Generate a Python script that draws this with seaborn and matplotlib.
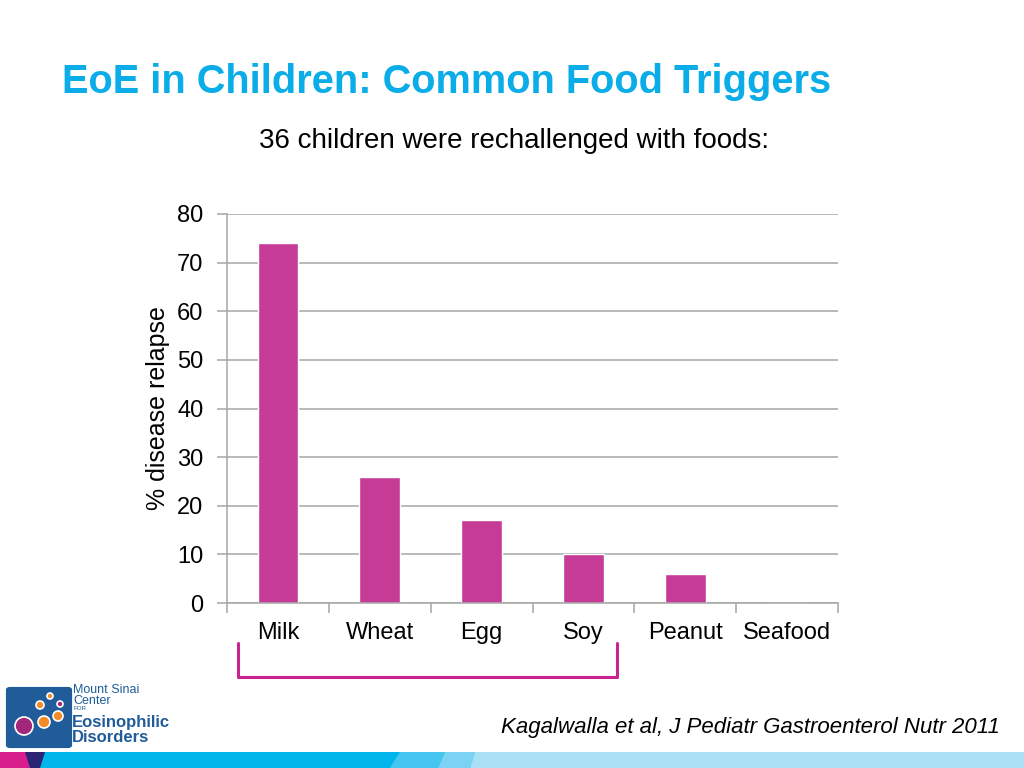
import matplotlib
matplotlib.use("Agg")
import matplotlib.pyplot as plt
import matplotlib.patches as mpatches
import seaborn as sns
import pandas as pd

# datos
alimentos = ['Milk', 'Wheat', 'Egg', 'Soy', 'Peanut', 'Seafood']
recaida = [74, 26, 17, 10, 6, 0]
ticks_y = [0, 10, 20, 30, 40, 50, 60, 70, 80]

sns.set_theme(style="white")
plt.rcParams['font.family'] = ['Liberation Sans', 'DejaVu Sans']
plt.rcParams['text.color'] = 'black'
plt.rcParams['axes.labelcolor'] = 'black'
plt.rcParams['xtick.color'] = 'black'
plt.rcParams['ytick.color'] = 'black'

df = pd.DataFrame({'alimento': alimentos, 'recaida': recaida})

W, H = 1024, 768
fig = plt.figure(figsize=(10.24, 7.68), dpi=100)

def fx(px):
    return px / W

def fy(py):
    return 1 - py / H

ax = fig.add_axes([fx(227), fy(603), fx(838) - fx(227), fy(214) - fy(603)])
sns.barplot(data=df, x='alimento', y='recaida', color='#C63B96', width=0.4,
            saturation=1, ax=ax)

ax.set_ylim(0, 80)
ax.set_xlim(-0.5, len(alimentos) - 0.5)
ax.set_yticks(ticks_y)
ax.yaxis.grid(True, color='#A6A6A6', linewidth=1.1)
ax.set_axisbelow(True)
for s in ['top', 'right']:
    ax.spines[s].set_visible(False)
for s in ['left', 'bottom']:
    ax.spines[s].set_color('#A6A6A6')
    ax.spines[s].set_linewidth(1.1)

# ticks del eje x en los limites de cada categoria
ax.set_xticks([i + 0.5 for i in range(-1, len(alimentos))], minor=False)
ax.set_xticklabels([])
ax.set_xticks(range(len(alimentos)), minor=True)
ax.set_xticklabels(alimentos, minor=True, fontsize=17)
ax.tick_params(axis='x', which='major', bottom=True, length=7, color='#A6A6A6', width=1.1)
ax.tick_params(axis='x', which='minor', bottom=False, pad=10, labelcolor='black')
ax.tick_params(axis='y', left=True, length=7, color='#A6A6A6', width=1.1, labelsize=17,
               pad=10, labelcolor='black')
ax.set_xlabel('')
ax.set_ylabel('% disease relapse', fontsize=18, labelpad=5, color='black')

# titulo y subtitulo
fig.text(fx(62), fy(82), 'EoE in Children: Common Food Triggers', fontsize=28.6,
         fontweight='bold', color='#0AADE8', va='center', ha='left')
fig.text(fx(514), fy(141), '36 children were rechallenged with foods:', fontsize=20,
         color='black', va='center', ha='center')
fig.text(fx(1000), fy(727), 'Kagalwalla et al, J Pediatr Gastroenterol Nutr 2011', fontsize=16,
         style='italic', color='black', va='center', ha='right')

# corchete bajo Milk..Soy
bx = [fx(238), fx(238), fx(617), fx(617)]
by = [fy(643), fy(677), fy(677), fy(643)]
fig.add_artist(plt.Line2D(bx, by, color='#C8248F', linewidth=2.2,
                          solid_joinstyle='round', transform=fig.transFigure))

# franja inferior
def poly(pts, color):
    fig.add_artist(mpatches.Polygon([(fx(x), fy(y)) for x, y in pts], closed=True,
                                    facecolor=color, edgecolor='none',
                                    transform=fig.transFigure))

poly([(0, 752), (1024, 752), (1024, 768), (0, 768)], '#00B5EA')
poly([(0, 752), (26, 752), (30, 768), (0, 768)], '#D81E8C')
poly([(25, 752), (45, 752), (40, 768), (30, 768)], '#2B2474')
poly([(400, 752), (445, 752), (438, 768), (390, 768)], '#45C6F0')
poly([(445, 752), (475, 752), (470, 768), (438, 768)], '#7AD3F3')
poly([(475, 752), (1024, 752), (1024, 768), (470, 768)], '#A9E0F5')

# logo simplificado
fig.add_artist(mpatches.FancyBboxPatch((fx(10), fy(745)), fx(58), fy(690) - fy(745),
                                       boxstyle='round,pad=0.004', facecolor='#1F5C99',
                                       edgecolor='none', transform=fig.transFigure))
for cx, cy, r, c in [(24, 726, 9, '#A2267A'), (44, 722, 6, '#F28C28'), (58, 716, 5, '#F28C28'),
                     (40, 705, 4, '#F28C28'), (50, 696, 3, '#F28C28'), (60, 704, 3, '#A2267A')]:
    fig.add_artist(mpatches.Ellipse((fx(cx), fy(cy)), 2 * r / W, 2 * r / H,
                                    facecolor=c, edgecolor='white', linewidth=1.2,
                                    transform=fig.transFigure))
fig.text(fx(73), fy(690), 'Mount Sinai', fontsize=9, color='#1F5C99', va='center', ha='left')
fig.text(fx(73), fy(701), 'Center', fontsize=9, color='#1F5C99', va='center', ha='left')
fig.text(fx(73), fy(709), 'FOR', fontsize=4.5, color='#1F5C99', va='center', ha='left')
fig.text(fx(72), fy(722), 'Eosinophilic', fontsize=12, fontweight='bold', color='#1F5C99',
         va='center', ha='left')
fig.text(fx(72), fy(737), 'Disorders', fontsize=12, fontweight='bold', color='#1F5C99',
         va='center', ha='left')

fig.savefig('out.png', dpi=100)
